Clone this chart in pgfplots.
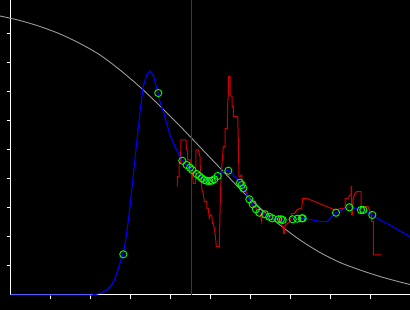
\documentclass[border=0pt]{standalone}
\usepackage{pgfplots}
\pgfplotsset{compat=1.18}
\definecolor{cgray}{RGB}{155,155,155}
\definecolor{cred}{RGB}{204,0,0}
\definecolor{cblue}{RGB}{0,0,255}
\definecolor{cgreen}{RGB}{0,255,0}
\definecolor{cpurple}{RGB}{140,0,140}
\begin{document}
\begin{tikzpicture}[x=1pt,y=1pt]
\fill[black] (0,0) rectangle (410,310);
\useasboundingbox (0,0) rectangle (410,310);
\begin{axis}[
  at={(10.7pt,15pt)}, anchor=south west,
  scale only axis, width=399.3pt, height=295pt,
  xmin=10.7, xmax=410, ymin=0, ymax=295,
  axis lines=left,
  axis line style={white, -, line width=1pt},
  tick align=outside,
  major tick length=4pt,
  tick style={white, line width=1pt},
  xtick={50.7,90.7,130.7,170.7,210.7,250.7,290.7,330.7,370.7},
  ytick={29,58,87,116,145,174,203,232,261},
  xticklabels={}, yticklabels={},
  xticklabel style={inner sep=0pt, outer sep=0pt, yshift=3pt},
  yticklabel style={inner sep=0pt, outer sep=0pt, xshift=3pt},
  clip=false,
]
% gray curve
\addplot[cgray, line width=0.9pt, smooth] coordinates {
(0,279)(20,274.5)(40,268.5)(60,261)(80,251.5)(100,240)(120,225)(140,208)(160,189)(180,169)(200,148)(220,127)(240,106)(260,87)(280,70)(300,55)(320,42.5)(340,32.5)(360,25)(380,18.5)(400,13)(410,10.5)
};
% vertical marker
\addplot[cpurple, line width=1pt] coordinates {(191,0)(191,295)};
% red step curve
\addplot[cred, line width=1pt] coordinates {
(177.3,108.3)(177.3,118.3)(179,118.3)(179,132)(180.5,132)(181,155)(186,155)(186.5,145)(187.7,145)(187.7,135)(190,135)(190,125)(192,125)(193.3,111.7)(195.5,111.7)(196,145)(198.3,145)(200,138.3)(200.5,120)(202,105)(203.3,101.7)(204.3,93.3)(206.7,93.3)(207,86.7)(208.3,86.7)(209.3,76.7)(210.5,80)(211.7,80)(212.5,71.7)(213.3,71.7)(214.3,66.7)(215.5,58.3)(216.3,48.3)(219.3,48.3)(220,81.7)(221,118.3)(222.3,135)(223.3,148.3)(225,148.3)(225,166.7)(227.3,166.7)(227.7,191.7)(228.3,200)(228.7,218.3)(230,218.3)(230,200)(232,198.3)(232,188.3)(233.3,188.3)(233.3,178.3)(237.7,178.3)(238.3,155)(239,118.3)(240,118.3)(241.7,120)(242,113)(244,109)(246.7,101.7)(248,99)(250,95)(253,88.3)(256,87)(260,82)(261.7,73.3)(262.5,83)(265,81.7)(268.3,80)(270,79)(273.3,76.7)(275,73.3)(276,76.7)(280,76.7)(281,72)(283.3,66.7)(283.3,61.7)(284.3,61.7)(285,70)(290,73.3)(291.7,81.7)(295,81.7)(296.7,85)(300,86.7)(301.7,86.7)(302.7,96.7)(306.7,96.7)(335,85)(341.7,86.7)(345,86.7)(345,96.7)(348.3,96.7)(350,100)(351,100)(351,108.3)(351.7,108.3)(351.7,80)(352.5,80)(353.3,96.7)(355,101.7)(356.7,103.3)(361,103.3)(361,83.3)(363,83.3)(365,88.3)(368,88.3)(370,83.3)(371.7,83.3)(371.7,73.3)(373.3,73.3)(373.3,40)(381.7,40)
};
% blue smooth curve
\addplot[cblue, line width=1.1pt] coordinates {
(10.7,0)(92,0)(100,1.5)(106.7,5)(111.7,10)(115,16.7)(118.3,26.7)(121.7,36.7)(124,45)(126.7,61.7)(130,88.3)(133.3,120)(136.7,152.5)(140,183)(143.3,209)(146.7,220)(150,224)(153.3,220)(156.7,206.7)(160,193.3)(163.3,183.3)(166.7,171.7)(170,160)(175,148.3)(180,138.3)(182.3,134.3)(186.7,130)(190,127.3)(192.3,125)(196.7,121)(199.3,119)(201.7,116.7)(204.3,115)(206.7,114.3)(209.3,114)(211.7,114.3)(214.3,115.7)(217.7,119)(220,121.7)(224,124)(228.3,124.3)(232,122)(235,118.3)(240,112.3)(243.3,106.7)(249,95.7)(252.7,90.7)(256,85.7)(259.3,82.3)(265,80.7)(269.3,78.3)(272.3,76.7)(278.3,75.7)(282.7,75)(292.7,75.7)(301.7,76.7)(313.3,75)(320,73.3)(326.7,73.3)(331.7,78.3)(336,82.3)(343.3,85.7)(349.3,87.7)(355,86.7)(363.3,85)(372.3,80)(380,75)(390,70)(400,64)(410,58.3)
};
% green circles
\addplot[only marks, mark=o, mark size=3.6pt, mark options={cgreen, line width=0.9pt}] coordinates {
(123.3,40.7)(158.3,202)(182.3,134.3)(186.7,130)(190,127.3)(192.3,125)(196.7,121)(199.3,119)(201.7,116.7)(204.3,115)(206.7,114.3)(209.3,114)(211.7,114.3)(214.3,115.7)(217.7,119)(228.3,124.3)(240,112.3)(241.7,110)(243.3,106.7)(249.3,95.7)(252.7,90.7)(256,85.7)(259.3,82.3)(265,80.7)(269.3,78.3)(272.3,76.7)(278.3,75.7)(281,75.7)(282.7,75)(292.7,75.7)(297.3,76.3)(301.7,76.7)(302.7,76.7)(336,82.3)(349.3,87.7)(361,85)(363.3,85)(372.3,80)
};
\end{axis}
\end{tikzpicture}
\end{document}
